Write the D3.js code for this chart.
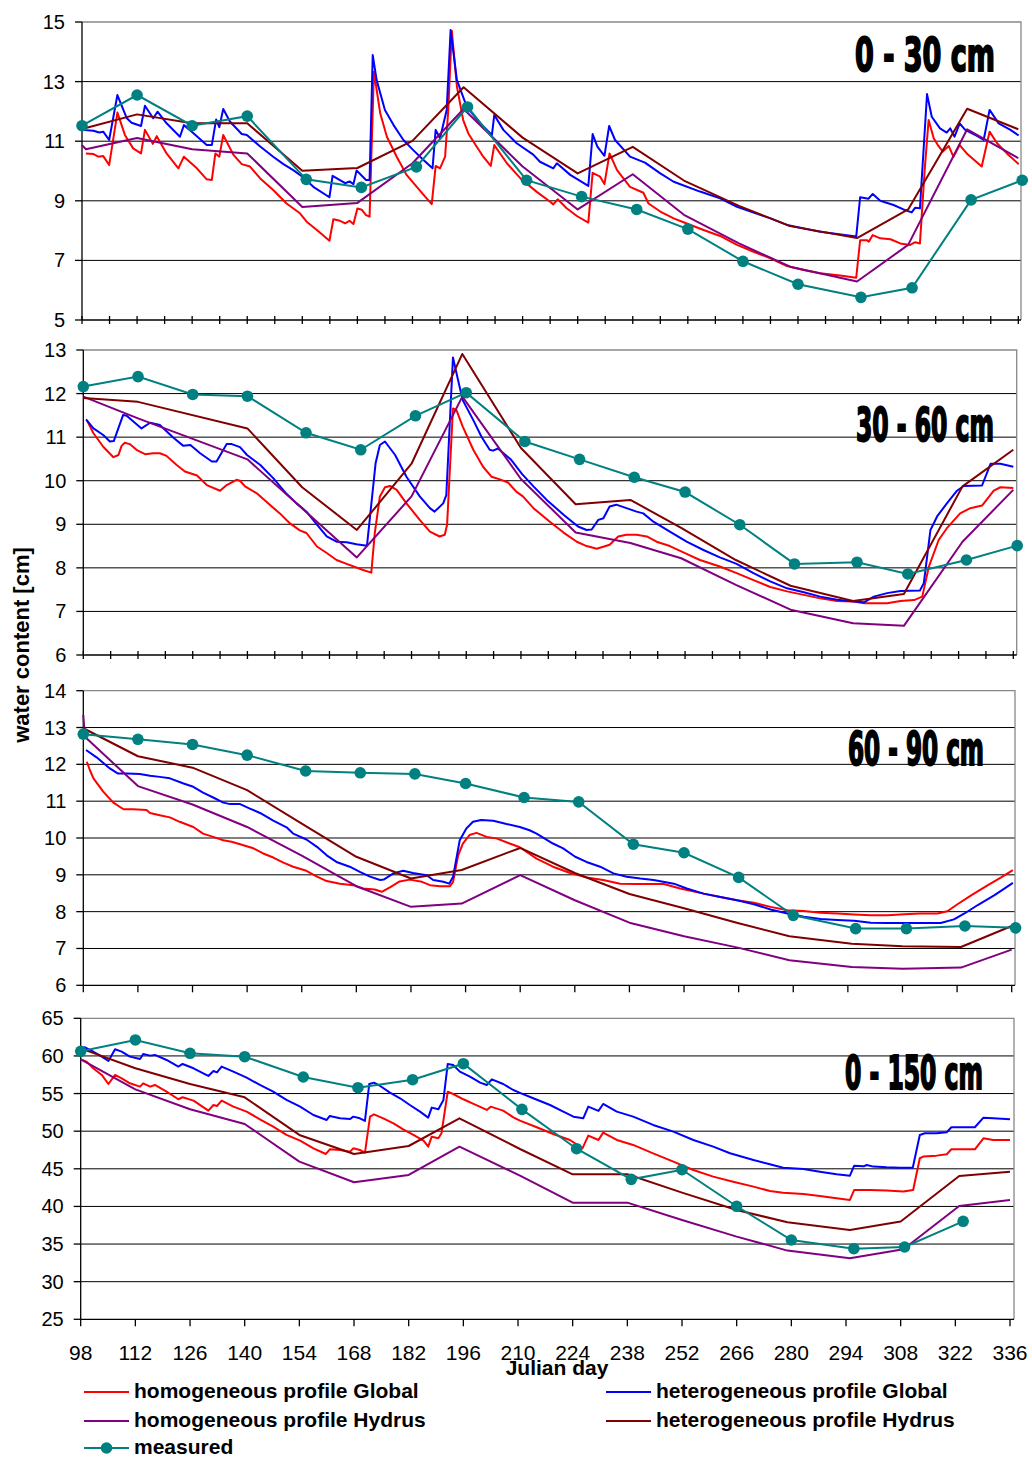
<!DOCTYPE html>
<html>
<head>
<meta charset="utf-8">
<script src="https://cdn.jsdelivr.net/npm/d3@7"></script>
<style>
  body { margin: 0; background: #fff; }
  svg { display: block; }
</style>
</head>
<body>
<div id="chart"></div>
<script>
// Measurement dates (Julian day)
const measuredDays = [98, 112, 126, 140, 155, 169, 183, 196, 211, 225, 239, 252, 266, 280, 296, 309, 324, 337];

// ---- 0 - 30 cm ----
const p1Measured = [11.52, 12.55, 11.52, 11.84, 9.72, 9.45, 10.14, 12.15, 9.69, 9.14, 8.71, 8.05, 6.97, 6.20, 5.76, 6.08, 9.03, 9.69];
const p1HomGlobal = [[99,10.59],[100.9,10.57],[102.2,10.48],[103.4,10.50],[104.9,10.20],[107,11.96],[108.9,11.21],[111,10.76],[113,10.59],[114,11.38],[116,10.91],[117,11.17],[119.5,10.59],[122.5,10.09],[123.9,10.48],[127.2,10.09],[129.7,9.72],[131,9.70],[131.9,10.59],[132.9,10.48],[133.9,11.21],[136.5,10.54],[138.6,10.23],[140.7,10.15],[143.3,9.75],[146.6,9.36],[150,8.91],[153.4,8.58],[155.1,8.30],[157.7,8.02],[160.9,7.66],[161.9,8.38],[163.6,8.33],[164.9,8.24],[166,8.33],[167,8.22],[168,8.74],[169.1,8.70],[170.2,8.52],[171.1,8.47],[172.2,13.33],[173.8,11.94],[175.5,11.15],[178,10.48],[180.5,9.87],[183.1,9.47],[185.6,9.08],[186.9,8.89],[187.9,10.17],[189,10.09],[190.3,10.48],[191.1,12.05],[192,14.71],[193.3,12.83],[194.9,11.71],[196.2,11.26],[198.3,10.82],[200,10.48],[201.9,10.17],[202.8,10.87],[206,10.26],[209.4,9.76],[213.6,9.30],[217,8.97],[217.8,8.88],[218.9,9.05],[221.2,8.75],[223.8,8.49],[226.7,8.27],[227.8,9.94],[229.7,9.81],[230.8,9.56],[232.1,10.59],[234,10.03],[237.3,9.47],[240.7,9.27],[242,8.91],[245,8.64],[248.4,8.41],[251.7,8.24],[256,8.02],[260.2,7.82],[264.5,7.52],[268.7,7.29],[273,7.07],[277.2,6.81],[281.4,6.68],[285.6,6.57],[290.7,6.49],[294.8,6.42],[295.8,7.68],[297.5,7.68],[298,7.63],[299,7.85],[300.9,7.74],[303.5,7.71],[306,7.57],[308.5,7.52],[309.8,7.61],[311,7.57],[312.2,10.03],[313.2,11.71],[314.5,11.10],[315.7,10.84],[316.8,10.65],[318.3,10.84],[319.5,10.48],[321.1,10.87],[322.9,10.59],[326.7,10.15],[328.7,11.32],[330.6,10.93],[333.1,10.59],[336.1,10.23]];
const p1HetGlobal = [[98,11.38],[100.9,11.35],[102.4,11.29],[103.4,11.32],[104.9,11.04],[107,12.55],[109.4,11.77],[110.6,11.62],[113,11.51],[114,12.19],[116.1,11.77],[117.2,11.99],[119.5,11.60],[122.9,11.15],[123.9,11.54],[125.9,11.32],[129.7,10.87],[131,10.87],[132.1,11.73],[132.9,11.47],[133.9,12.08],[135.6,11.66],[138.6,11.24],[139.9,11.21],[143.3,10.82],[146.6,10.48],[149.2,10.23],[151.7,10.03],[154.3,9.78],[156.8,9.47],[160.9,9.12],[161.7,9.84],[164.9,9.59],[166,9.65],[167,9.56],[167.8,10.02],[169,9.86],[170.2,9.70],[171.1,9.70],[171.9,13.89],[172.9,13.05],[175,12.05],[177.2,11.54],[179.7,11.04],[182.2,10.70],[184.8,10.37],[187.1,10.09],[187.9,11.38],[189,11.10],[190.7,12.05],[191.7,14.73],[193.3,13.05],[195.8,12.16],[199.2,11.60],[202.2,11.21],[202.8,11.88],[205.1,11.38],[208.5,10.93],[212.7,10.55],[214.4,10.31],[217.8,10.09],[218.7,10.26],[222.1,9.87],[226.7,9.50],[227.8,11.24],[229,10.82],[230.8,10.51],[232,11.51],[233.5,11.04],[237.3,10.48],[241.1,10.28],[245,9.92],[248.4,9.64],[255.1,9.31],[260.2,9.08],[264.5,8.80],[273,8.41],[277.2,8.19],[285.6,7.96],[294.8,7.80],[295.8,9.12],[297.9,9.07],[299,9.23],[300.9,9.00],[304.3,8.86],[306.8,8.71],[308.9,8.61],[309.8,8.77],[311,8.75],[312.8,12.58],[314,11.82],[316.1,11.43],[317.8,11.29],[318.7,11.43],[319.8,11.15],[321.1,11.60],[322.5,11.38],[325.5,11.18],[327.2,11.04],[328.7,12.05],[331,11.60],[334,11.38],[336.1,11.19]];
const p1HomHydrus = [[98,10.87],[99,10.73],[112,11.11],[126,10.73],[140,10.59],[154,8.79],[168,8.93],[182,10.26],[195,12.08],[210,10.15],[224,8.71],[238,9.89],[251,8.53],[265,7.57],[278,6.79],[295,6.29],[308,7.52],[323,11.40],[336,10.43]];
const p1HetHydrus = [[98,11.41],[112,11.90],[126,11.60],[140,11.60],[154,10.01],[168,10.10],[182,11.01],[195,12.81],[210,11.12],[224,9.92],[238,10.81],[251,9.68],[265,8.83],[278,8.15],[295,7.75],[308,8.71],[323,12.09],[336,11.40]];

// ---- 30 - 60 cm ----
const p2Measured = [12.16, 12.39, 11.98, 11.94, 11.10, 10.71, 11.49, 12.02, 10.90, 10.49, 10.08, 9.74, 8.99, 8.09, 8.13, 7.86, 8.18, 8.51];
const p2HomGlobal = [[98.9,11.39],[100.6,11.09],[103.1,10.78],[105.7,10.54],[107,10.59],[107.8,10.80],[108.6,10.87],[109.9,10.84],[111.6,10.71],[113.8,10.61],[115.9,10.63],[117.6,10.63],[119.3,10.57],[121.9,10.36],[124,10.21],[127.1,10.12],[129.6,9.90],[133,9.77],[134.7,9.90],[137.2,10.02],[138.1,10.00],[139.4,9.87],[142.4,9.71],[145.8,9.44],[148.3,9.25],[150.9,9.02],[153.4,8.86],[155.1,8.80],[157.8,8.49],[160.3,8.34],[162.8,8.18],[165.4,8.09],[168.4,7.99],[169.6,7.95],[171.7,7.89],[172.6,8.80],[173.9,9.64],[175.2,9.85],[176.5,9.88],[178.2,9.79],[180.7,9.48],[184.1,9.10],[186.7,8.83],[189.2,8.72],[190.5,8.76],[191.1,8.99],[192.6,11.66],[193.5,11.62],[195.1,11.24],[197.8,10.71],[200.3,10.32],[202.5,10.09],[204.6,10.03],[206.7,9.96],[208.8,9.75],[210.5,9.64],[213.2,9.37],[217.4,9.06],[220.9,8.81],[224.3,8.60],[226.8,8.50],[229.4,8.44],[232.7,8.53],[234.9,8.72],[237,8.76],[239.6,8.76],[242.2,8.72],[244.7,8.60],[248.1,8.50],[252.4,8.32],[255.8,8.18],[260.9,8.03],[265.2,7.88],[269.5,7.72],[273.8,7.56],[278.1,7.46],[282.4,7.38],[286.6,7.30],[290.9,7.24],[295.2,7.23],[297.8,7.19],[303.7,7.19],[307.1,7.24],[310.6,7.26],[312.7,7.34],[314.4,8.03],[316.9,8.64],[319,8.91],[322.4,9.25],[325,9.37],[328,9.43],[331,9.77],[332.7,9.85],[336,9.83]];
const p2HetGlobal = [[98.7,11.41],[100.6,11.20],[103.1,11.05],[104.8,10.90],[105.8,10.91],[108.2,11.51],[109.1,11.49],[112.9,11.20],[115.1,11.33],[117.6,11.28],[121,10.99],[123.6,10.80],[125.4,10.82],[127.9,10.63],[130.9,10.44],[132.1,10.44],[134.7,10.84],[136,10.84],[138.1,10.77],[139.9,10.59],[143.3,10.36],[146.6,10.06],[150,9.70],[152.6,9.48],[155.1,9.29],[157.8,8.99],[160.3,8.72],[162.8,8.60],[165.4,8.59],[167.9,8.54],[170.6,8.51],[172.8,10.40],[173.9,10.82],[175.2,10.90],[177.8,10.59],[180.7,10.09],[184.1,9.64],[186.7,9.37],[187.9,9.29],[190.1,9.48],[190.9,9.67],[192.6,12.83],[193.9,12.31],[195.1,11.85],[197.8,11.39],[199.9,11.01],[202,10.71],[202.9,10.69],[204.1,10.74],[207.5,10.48],[210.3,10.15],[213.2,9.87],[216.6,9.56],[220.9,9.22],[224.6,8.95],[226.8,8.87],[228.1,8.88],[229.8,9.10],[231.1,9.14],[232.7,9.41],[234.4,9.45],[237,9.37],[239.6,9.29],[241.3,9.25],[243.9,9.06],[248.1,8.83],[252.4,8.60],[256.7,8.41],[260.9,8.24],[265.2,8.09],[269.5,7.88],[273.8,7.69],[278.1,7.53],[282.4,7.44],[286.6,7.34],[290.9,7.27],[295.2,7.23],[297.8,7.21],[300.3,7.34],[303.7,7.42],[307.1,7.47],[312.1,7.48],[313.1,7.65],[314.8,8.87],[316.5,9.18],[319,9.48],[321.6,9.77],[323.3,9.88],[328,9.89],[330.2,10.39],[332.7,10.39],[336,10.32]];
const p2HomHydrus = [[98,11.93],[112,11.43],[140,10.49],[168,8.24],[182,9.64],[195,11.93],[210,10.04],[224,8.81],[238,8.57],[251,8.22],[265,7.61],[279,7.04],[295,6.73],[308,6.67],[323,8.60],[336,9.79]];
const p2HetHydrus = [[98,11.90],[112,11.81],[140,11.20],[154,9.85],[168,8.87],[182,10.39],[195,12.91],[210,10.75],[224,9.46],[238,9.56],[251,8.92],[265,8.18],[279,7.59],[295,7.24],[308,7.40],[323,9.87],[336,10.71]];

// ---- 60 - 90 cm ----
const p3Measured = [12.82, 12.68, 12.54, 12.25, 11.82, 11.77, 11.74, 11.48, 11.10, 10.98, 9.83, 9.60, 8.93, 7.90, 7.54, 7.54, 7.61, 7.56];
const p3HomGlobal = [[98.9,12.07],[99.7,11.84],[100.6,11.62],[103.1,11.26],[105.7,10.96],[108.3,10.78],[110.8,10.78],[114.2,10.76],[115.1,10.68],[117.6,10.62],[120.2,10.56],[122.7,10.44],[126.2,10.30],[128.7,10.12],[131.3,10.03],[133.9,9.94],[136,9.90],[138.2,9.83],[141.6,9.72],[144.1,9.58],[146.7,9.47],[149.3,9.33],[151.8,9.22],[155.2,9.11],[157.9,8.95],[160.4,8.83],[163.8,8.76],[167.2,8.72],[169.7,8.63],[172.7,8.60],[174.5,8.54],[176.6,8.66],[179.1,8.82],[181.7,8.87],[184.8,8.81],[186.9,8.72],[189.4,8.69],[192,8.69],[192.8,8.81],[194.1,9.53],[195.3,9.85],[197,10.08],[198.8,10.14],[201.4,10.03],[203.9,9.99],[207.3,9.85],[209.9,9.75],[214.2,9.44],[218.4,9.22],[222.8,9.05],[227,8.93],[231.3,8.86],[235.6,8.76],[239.9,8.75],[246.8,8.75],[251,8.63],[257,8.49],[261.3,8.40],[265.6,8.31],[269.9,8.24],[274.2,8.13],[278.5,8.04],[282.7,8.02],[287,7.97],[291.3,7.95],[295.6,7.92],[299.9,7.90],[304.2,7.90],[308.5,7.93],[312.6,7.95],[317,7.95],[319.5,8.01],[322.1,8.20],[325.6,8.44],[329.9,8.72],[333.3,8.93],[336.3,9.13]];
const p3HetGlobal = [[98.7,12.39],[101.4,12.19],[104.8,11.89],[106.9,11.75],[109.2,11.75],[112.5,11.74],[115.1,11.69],[117.6,11.66],[120.2,11.62],[123.7,11.48],[126.2,11.39],[128.7,11.23],[131.3,11.10],[133.9,10.96],[135.6,10.92],[138.2,10.92],[140.7,10.80],[143.3,10.68],[146.7,10.47],[150.1,10.29],[151.8,10.12],[155.2,9.96],[157.9,9.76],[160.4,9.53],[162.9,9.35],[166.3,9.22],[168.9,9.08],[171.5,8.95],[174.1,8.86],[175,8.87],[177.5,9.04],[180,9.11],[182.5,9.05],[186,8.99],[187.7,8.86],[190.3,8.81],[191.8,8.76],[192.8,8.95],[194.5,9.94],[196.2,10.26],[197.9,10.44],[200,10.49],[203.1,10.47],[206.5,10.38],[209.9,10.30],[212.4,10.21],[214.2,10.12],[218.4,9.85],[221,9.72],[224.1,9.49],[227,9.35],[230.5,9.22],[233.9,9.04],[237.3,8.95],[240.8,8.90],[244.2,8.86],[249.4,8.76],[252.7,8.63],[257,8.49],[261.3,8.40],[265.6,8.31],[269.9,8.20],[274.2,8.06],[278.5,7.95],[282.7,7.86],[287,7.80],[291.3,7.77],[295.6,7.75],[299.9,7.70],[304.2,7.69],[312.6,7.69],[317.8,7.69],[321.2,7.79],[323.9,7.95],[327.3,8.18],[331.6,8.45],[334.2,8.63],[336.3,8.78]];
const p3HomHydrus = [[98,13.34],[98.4,12.75],[112,11.41],[126,10.91],[140,10.30],[154,9.52],[168,8.69],[182,8.13],[195,8.22],[210,8.99],[224,8.31],[238,7.70],[252,7.33],[265.5,7.03],[279,6.68],[295,6.50],[308,6.45],[323,6.48],[336,6.97]];
const p3HetHydrus = [[98,12.98],[112,12.22],[126,11.91],[140,11.30],[154,10.39],[168,9.49],[182,8.90],[195,9.13],[210,9.73],[224,9.05],[238,8.48],[252,8.09],[265.5,7.70],[279,7.33],[295,7.13],[308,7.06],[323,7.04],[336,7.61]];

// ---- 0 - 150 cm ----
const p4Measured = [60.61, 62.12, 60.35, 59.90, 57.20, 55.78, 56.84, 58.97, 52.90, 47.67, 43.60, 44.88, 40.02, 35.54, 34.38, 34.61, 38.02];
const p4HomGlobal = [[98,59.55],[99.5,59.24],[101.2,58.36],[103.4,57.47],[105.1,56.27],[106.8,57.47],[108.5,57.03],[110.6,56.36],[113.2,55.92],[114,56.36],[115.8,55.92],[117,56.14],[120,55.25],[123,54.24],[124.1,54.51],[126.9,54.06],[130.7,52.73],[132,53.48],[132.9,53.35],[134.1,54.06],[137.1,53.26],[140.5,52.60],[143.9,51.58],[147.3,50.60],[150.7,49.50],[154.2,48.74],[157.6,47.72],[160.8,46.97],[161.8,47.59],[164.4,47.50],[167,47.28],[167.8,47.72],[169.5,47.50],[170.8,47.15],[172.1,51.93],[173.1,52.24],[175.5,51.71],[178.1,51.05],[180.6,50.25],[183.2,49.50],[185.8,48.74],[187,47.95],[187.9,49.27],[189.6,49.05],[190.4,49.72],[192,55.25],[193.4,54.94],[196,54.24],[198.6,53.62],[202,52.82],[203,53.26],[206.2,52.73],[208.8,51.84],[210.5,51.40],[214.8,50.52],[219,49.63],[223.3,48.83],[226.5,47.72],[228,49.41],[230.6,48.83],[231.8,49.81],[235.3,48.83],[239.5,48.17],[244.6,47.06],[249.8,45.95],[254.9,44.84],[260,43.96],[265.1,43.29],[270.3,42.63],[274.5,42.05],[277.9,41.83],[283.1,41.66],[287.3,41.39],[291.6,41.08],[295,40.86],[296.1,42.19],[300.1,42.19],[304.4,42.10],[308.7,41.97],[311.2,42.19],[312.9,46.40],[313.8,46.62],[317.2,46.75],[319.8,46.93],[321,47.59],[327,47.59],[329.2,49.05],[331.7,48.83],[336,48.83]];
const p4HetGlobal = [[98,61.01],[99.1,61.15],[101.2,60.57],[103.4,59.91],[105.1,59.33],[106.8,60.88],[108.5,60.57],[110.6,59.91],[113.2,59.60],[114,60.26],[115.8,60.04],[117,60.13],[120,59.46],[123,58.58],[124.1,58.93],[126.9,58.36],[129.4,57.69],[130.7,57.34],[132,58.00],[132.9,57.82],[134.1,58.58],[137.1,57.91],[140.5,57.11],[143.9,56.14],[147.3,55.25],[150.7,54.15],[154.2,53.26],[157.6,52.15],[161,51.49],[161.8,52.02],[164.4,51.71],[167,51.62],[167.8,51.93],[169.5,51.71],[170.8,51.36],[171.9,56.27],[173.1,56.45],[174.7,56.01],[177.2,55.12],[179.8,54.37],[182.3,53.48],[184.9,52.60],[187,51.80],[187.9,53.13],[189.6,52.91],[190.9,54.15],[192,58.93],[193.4,58.80],[195.1,57.91],[197.7,57.25],[200.3,56.45],[202,56.14],[203.3,56.89],[206.2,56.27],[208.8,55.47],[210.5,55.10],[213.9,54.37],[218.2,53.48],[221.6,52.60],[224.2,51.93],[226.7,51.71],[228,53.26],[230.6,52.69],[231.8,53.62],[235.3,52.60],[239.5,51.93],[244.6,50.83],[249.8,49.94],[254.9,48.83],[260,47.94],[264.3,47.06],[270.3,46.17],[274.5,45.60],[277.9,45.15],[283.1,44.98],[287.3,44.62],[291.6,44.27],[295,44.09],[296.1,45.42],[298.5,45.33],[299.3,45.51],[301,45.29],[304.4,45.20],[307.8,45.15],[311.1,45.15],[312.9,49.50],[314.2,49.72],[317.2,49.72],[319.8,49.85],[321,50.52],[327,50.52],[329.2,51.80],[331.7,51.71],[336,51.58]];
const p4HomHydrus = [[98,59.55],[112,55.56],[126,52.91],[140,50.96],[154,45.95],[168,43.21],[182,44.18],[195,47.94],[210.5,44.09],[224,40.50],[238,40.50],[252,38.20],[266,35.99],[279,34.13],[295,33.11],[308.7,34.30],[323,40.06],[336,40.86]];
const p4HetHydrus = [[98,61.01],[112,58.36],[126,56.27],[140,54.50],[154,49.50],[168,46.97],[182,48.03],[195,51.71],[210.5,47.63],[224,44.27],[238,44.27],[252,41.83],[266,39.53],[279,37.89],[295,36.88],[308,37.99],[323,44.05],[336,44.62]];

// Axis ticks and labels
const xTickLabels = [98, 112, 126, 140, 154, 168, 182, 196, 210, 224, 238, 252, 266, 280, 294, 308, 322, 336];
const seriesNames = ["homogeneous profile Global", "heterogeneous profile Global", "homogeneous profile Hydrus", "heterogeneous profile Hydrus", "measured"];
const seriesColors = ["#ff0000", "#0000ff", "#800080", "#800000", "#008080"];

const width = 1032, height = 1459;
const font = "'Liberation Sans', Arial, sans-serif";

// Panel layout
const panels = [
  { label: "0 - 30 cm", y: [5, 15], yTicks: d3.range(5, 16, 2), top: 22, bottom: 320, x0: 82, x1: 1018.3, right: 1021,
    xStep: 7, cross: true, lab: [855, 995, 71],
    series: [p1HomGlobal, p1HetGlobal, p1HomHydrus, p1HetHydrus], measured: p1Measured },
  { label: "30 - 60 cm", y: [6, 13], yTicks: d3.range(6, 14, 1), top: 350, bottom: 655, x0: 83.3, x1: 1013.3, right: 1016.7,
    xStep: 7, cross: true, lab: [856, 994, 441],
    series: [p2HomGlobal, p2HetGlobal, p2HomHydrus, p2HetHydrus], measured: p2Measured },
  { label: "60 - 90 cm", y: [6, 14], yTicks: d3.range(6, 15, 1), top: 690.7, bottom: 985.3, x0: 83.3, x1: 1011.7, right: 1015,
    xStep: 14, cross: false, lab: [848, 984, 765],
    series: [p3HomGlobal, p3HetGlobal, p3HomHydrus, p3HetHydrus], measured: p3Measured },
  { label: "0 - 150 cm", y: [25, 65], yTicks: d3.range(25, 66, 5), top: 1018.3, bottom: 1319.3, x0: 80.7, x1: 1010, right: 1014,
    xStep: 14, cross: false, lab: [845, 983, 1089],
    series: [p4HomGlobal, p4HetGlobal, p4HomHydrus, p4HetHydrus], measured: p4Measured }
];

const svg = d3.select("#chart").append("svg")
  .attr("width", width)
  .attr("height", height)
  .style("font-family", font);

svg.append("rect").attr("width", width).attr("height", height).attr("fill", "#fff");

panels.forEach((p, pi) => {
  const x = d3.scaleLinear().domain([98, 336]).range([p.x0, p.x1]);
  const y = d3.scaleLinear().domain(p.y).range([p.bottom, p.top]);
  const g = svg.append("g");

  // gridlines
  g.selectAll("line.grid")
    .data(p.yTicks.slice(1, -1))
    .join("line")
    .attr("x1", p.x0).attr("x2", p.right)
    .attr("y1", d => y(d)).attr("y2", d => y(d))
    .attr("stroke", "#000").attr("stroke-width", 1);

  // plot-area frame: top and right in grey
  g.append("path")
    .attr("d", `M${p.x0},${p.top}H${p.right}V${p.bottom}`)
    .attr("fill", "none").attr("stroke", "#888").attr("stroke-width", 1.3);

  // left axis
  g.append("line")
    .attr("x1", p.x0).attr("x2", p.x0).attr("y1", p.top).attr("y2", p.bottom)
    .attr("stroke", "#000").attr("stroke-width", 1.3);
  g.selectAll("line.ytick")
    .data(p.yTicks)
    .join("line")
    .attr("x1", p.x0 - 7).attr("x2", p.x0)
    .attr("y1", d => y(d)).attr("y2", d => y(d))
    .attr("stroke", "#000").attr("stroke-width", 1.3);
  g.selectAll("text.ylab")
    .data(p.yTicks)
    .join("text")
    .attr("x", p.x0 - 17)
    .attr("y", d => y(d) + 7)
    .attr("text-anchor", "end")
    .attr("font-size", 20)
    .text(d => d);

  // bottom axis
  g.append("line")
    .attr("x1", p.x0).attr("x2", p.right).attr("y1", p.bottom).attr("y2", p.bottom)
    .attr("stroke", "#000").attr("stroke-width", 1.3);
  g.selectAll("line.xtick")
    .data(d3.range(98, 337, p.xStep))
    .join("line")
    .attr("x1", d => x(d)).attr("x2", d => x(d))
    .attr("y1", p.cross ? p.bottom - 4 : p.bottom)
    .attr("y2", p.bottom + (p.cross ? 4 : 7))
    .attr("stroke", "#000").attr("stroke-width", 1.3);

  // series lines
  const line = d3.line().x(d => x(d[0])).y(d => y(d[1]));
  p.series.forEach((s, i) => {
    g.append("path")
      .datum(s)
      .attr("d", line)
      .attr("fill", "none")
      .attr("stroke", seriesColors[i])
      .attr("stroke-width", 2)
      .attr("stroke-linejoin", "round");
  });

  // measured
  const meas = p.measured.map((v, i) => [measuredDays[i], v]);
  g.append("path")
    .datum(meas)
    .attr("d", line)
    .attr("fill", "none")
    .attr("stroke", seriesColors[4])
    .attr("stroke-width", 2);
  g.selectAll("circle")
    .data(meas)
    .join("circle")
    .attr("cx", d => x(d[0]))
    .attr("cy", d => y(d[1]))
    .attr("r", 5.8)
    .attr("fill", seriesColors[4]);

  // depth label, squeezed horizontally to the reference width
  const lab = g.append("text")
    .attr("font-family", "'Liberation Sans Narrow', 'DejaVu Sans Condensed', 'Liberation Sans', sans-serif")
    .attr("font-weight", "bold")
    .attr("font-size", 47)
    .attr("stroke", "#000")
    .attr("stroke-width", 2)
    .text(p.label);
  const natural = lab.node().getComputedTextLength();
  const sx = (p.lab[1] - p.lab[0]) / natural;
  lab.attr("transform", `translate(${p.lab[0]},${p.lab[2]}) scale(${sx},1)`);

  // x tick labels below the last panel
  if (pi === panels.length - 1) {
    g.selectAll("text.xlab")
      .data(xTickLabels)
      .join("text")
      .attr("x", d => x(d))
      .attr("y", 1360)
      .attr("text-anchor", "middle")
      .attr("font-size", 21)
      .text(d => d);
  }
});

// axis titles
svg.append("text")
  .attr("transform", "translate(29,645) rotate(-90)")
  .attr("text-anchor", "middle")
  .attr("font-size", 22)
  .attr("font-weight", "bold")
  .text("water content [cm]");

svg.append("text")
  .attr("x", 557)
  .attr("y", 1375)
  .attr("text-anchor", "middle")
  .attr("font-size", 21)
  .attr("font-weight", "bold")
  .text("Julian day");

// legend
const legendPos = [[84, 1392], [606, 1392], [84, 1421], [606, 1421], [84, 1448]];
const legend = svg.append("g")
  .selectAll("g")
  .data(seriesNames)
  .join("g")
  .attr("transform", (d, i) => `translate(${legendPos[i][0]},${legendPos[i][1]})`);

legend.append("line")
  .attr("x1", 0).attr("x2", 45)
  .attr("stroke", (d, i) => seriesColors[i])
  .attr("stroke-width", 2);

legend.filter((d, i) => i === 4)
  .append("circle")
  .attr("cx", 22.5).attr("r", 5.8)
  .attr("fill", seriesColors[4]);

legend.append("text")
  .attr("x", 50)
  .attr("y", 6)
  .attr("font-size", 21)
  .attr("font-weight", "bold")
  .text(d => d);
</script>
</body>
</html>
